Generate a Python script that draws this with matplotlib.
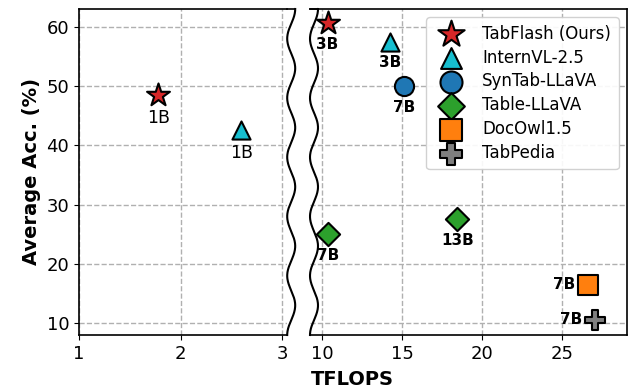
import numpy as np
import matplotlib
matplotlib.use('Agg')
import matplotlib.pyplot as plt
from matplotlib.lines import Line2D

# Model data: TFLOPS, average accuracy, model size
models = ['TabFlash (Ours)', 'InternVL-2.5', 'SynTab-LLaVA', 'Table-LLaVA', 'DocOwl1.5', 'TabPedia']
tflops = [[1.78, 10.35], [2.6, 14.25], [15.15], [10.4, 18.45], [26.6], [27.05]]
acc = [[48.5, 60.6], [42.6, 57.5], [50.0], [25.0, 27.6], [16.5], [10.6]]
sizes = [['1B', '3B'], ['1B', '3B'], ['7B'], ['7B', '13B'], ['7B'], ['7B']]
label_side = [['below', 'below'], ['below', 'below'], ['below'], ['below', 'below'], ['left'], ['left']]

colors = ['#d62728', '#17becf', '#1f77b4', '#2ca02c', '#ff7f0e', '#7f7f7f']
markers = ['*', '^', 'o', 'D', 's', 'P']
msizes = [300, 170, 190, 140, 190, 200]

fig = plt.figure(figsize=(6.28, 3.9), dpi=100)
W, H = 628, 390
top, bot = 9, 335
ax1 = fig.add_axes([79 / W, 1 - bot / H, 208 / W, (bot - top) / H])
ax2 = fig.add_axes([310 / W, 1 - bot / H, 317 / W, (bot - top) / H])

ax1.set_xlim(1, 3.049)
ax2.set_xlim(9.25, 29.06)
for ax in (ax1, ax2):
    ax.set_ylim(8, 63)
    ax.grid(True, linestyle='--', color='#b0b0b0', linewidth=1)
    ax.set_axisbelow(True)
    ax.tick_params(labelsize=13)
    for s in ax.spines.values():
        s.set_linewidth(1.2)

ax1.set_xticks([1, 2, 3])
ax1.set_yticks([10, 20, 30, 40, 50, 60])
ax2.set_xticks([10, 15, 20, 25])
ax2.set_yticks([10, 20, 30, 40, 50, 60])
ax2.tick_params(axis='y', left=False, labelleft=False)
ax1.spines['right'].set_visible(False)
ax2.spines['left'].set_visible(False)

for i, name in enumerate(models):
    for j, (x, y) in enumerate(zip(tflops[i], acc[i])):
        ax = ax1 if x < 5 else ax2
        ax.scatter(x, y, s=msizes[i], marker=markers[i], c=colors[i],
                   edgecolors='black', linewidths=1.5, zorder=3,
                   label=name if j == len(tflops[i]) - 1 else None)
        if x < 5:
            fs, weight = 12.5, 'normal'
        else:
            fs, weight = 11, 'bold'
        if label_side[i][j] == 'below':
            ax.annotate(sizes[i][j], (x, y), xytext=(0, -10), textcoords='offset points',
                        ha='center', va='top', fontsize=fs, fontweight=weight)
        else:
            ax.annotate(sizes[i][j], (x, y), xytext=(-9, 0), textcoords='offset points',
                        ha='right', va='center', fontsize=fs, fontweight=weight)

# wavy break lines (5.5 periods between top and bottom)
yy = np.linspace(top, bot, 500)
period = (bot - top) / 5.5
wave = 4.0 * np.cos(2 * np.pi * (yy - top) / period)
for xc, x_edge in ((291.2, 287), (314.0, 310)):
    fig.add_artist(Line2D((xc + wave) / W, 1 - yy / H, color='black', linewidth=1.5,
                          transform=fig.transFigure))
    # extend the top spine to the wave start
    fig.add_artist(Line2D([x_edge / W, (xc + 4.0) / W], [1 - top / H, 1 - top / H],
                          color='black', linewidth=1.2, transform=fig.transFigure))

ax2.legend(loc='upper right', fontsize=12, framealpha=0.9, edgecolor='#cccccc',
           markerscale=1.15, borderpad=0.45, labelspacing=0.35, handletextpad=0.9,
           borderaxespad=0.5)

ax1.set_ylabel('Average Acc. (%)', fontsize=14, fontweight='bold')
fig.text(352 / W, 1 - 370 / H, 'TFLOPS', ha='center', va='top', fontsize=14, fontweight='bold')

fig.savefig('out.png', dpi=100)
